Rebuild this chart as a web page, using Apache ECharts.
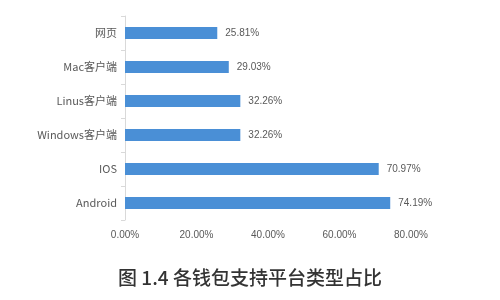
<!DOCTYPE html>
<html><head><meta charset="utf-8">
<script src="https://cdn.jsdelivr.net/npm/echarts@6/dist/echarts.min.js"></script>
<style>html,body{margin:0;padding:0;background:#fff}#c{width:500px;height:300px}</style>
</head><body><div id="c"></div>
<script>
var categories = ['网页', 'Mac客户端', 'Linus客户端', 'Windows客户端', 'IOS', 'Android'];
var values = [25.81, 29.03, 32.26, 32.26, 70.97, 74.19];
var xTicks = [0, 20, 40, 60, 80];
var titleText = '图 1.4 各钱包支持平台类型占比';

var chart = echarts.init(document.getElementById('c'));
chart.setOption({
  animation: false,
  title: {
    text: titleText, left: 'center', top: 263,
    textStyle: { fontFamily: 'Noto Sans CJK SC', fontSize: 19, fontWeight: 500, color: '#333' }
  },
  grid: { left: 125, right: 89, top: 16, bottom: 80 },
  xAxis: {
    type: 'value', min: xTicks[0], max: xTicks[xTicks.length - 1], interval: 20,
    axisLine: { show: false }, axisTick: { show: false }, splitLine: { show: false },
    axisLabel: { color: '#595959', fontSize: 10, fontFamily: 'Liberation Sans', margin: 10,
      formatter: function (v) { return v.toFixed(2) + '%'; } }
  },
  yAxis: {
    type: 'category', data: categories, inverse: true,
    axisLine: { show: true, lineStyle: { color: '#d9d9d9' } },
    axisTick: { show: true, length: 4, lineStyle: { color: '#d9d9d9' } },
    axisLabel: { color: '#595959', fontSize: 11, fontFamily: 'Noto Sans CJK SC', margin: 8 }
  },
  series: [{
    type: 'bar', data: values, barWidth: 12,
    itemStyle: { color: '#4a8fd6' },
    label: { show: true, position: 'right', distance: 8, color: '#595959', fontSize: 10,
      fontFamily: 'Liberation Sans', formatter: function (p) { return p.value.toFixed(2) + '%'; } }
  }]
});
</script></body></html>
